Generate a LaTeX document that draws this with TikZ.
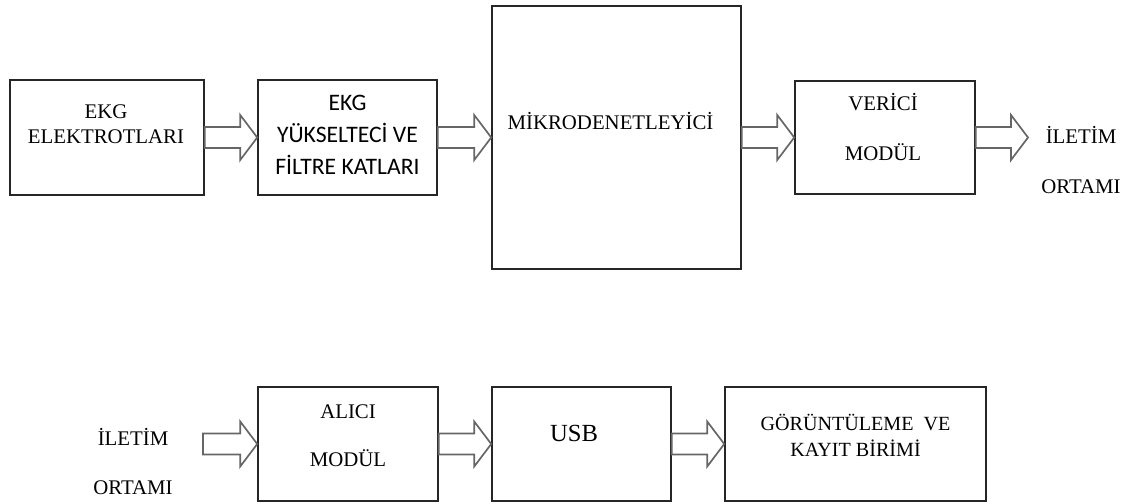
\documentclass[tikz,border=0pt]{standalone}
\usepackage{fontspec}
\setmainfont{Liberation Serif}
\newfontfamily\calibri{Carlito}
\usetikzlibrary{positioning,calc}

\newcommand{\birim}{0.025cm}
% hollow block arrow from #1 to #2
\newcommand{\blokok}[2]{%
  \draw[okcizgi] ($(#1)+(0,-10.5)$) -- ($(#2)+(-17,-10.5)$) -- ($(#2)+(-17,-22.5)$) -- (#2)
    -- ($(#2)+(-17,22.5)$) -- ($(#2)+(-17,10.5)$) -- ($(#1)+(0,10.5)$) -- cycle;}

\begin{document}
\begin{tikzpicture}[x=\birim, y=-\birim]

  \tikzstyle{every node}=[font=\fontsize{14.8}{17}\selectfont]

  \tikzset{blok/.style={draw=black!85, line width=1.1pt, inner sep=0pt},
    okcizgi/.style={draw=black!60, line width=1.2pt}}

  \useasboundingbox (0,0) rectangle (1129,504);

  % Upper row
  \node[blok, minimum width=194*\birim, minimum height=115*\birim] (elektrot) at (107,137.5) {};
  \node[blok, minimum width=179*\birim, minimum height=115*\birim] (yukseltec) at (347.5,137.5) {};
  \node[blok, minimum width=249*\birim, minimum height=263*\birim] (mikro) at (616.5,137.5) {};
  \node[blok, minimum width=180*\birim, minimum height=113*\birim] (verici) at (885,137.5) {};
  \coordinate (iletim ucu) at (1028,137.5);

  \node[align=center, font=\fontsize{14.8}{17.8}\selectfont] (elektrot yazi) at ($(elektrot)+(-1,-13)$) {EKG\\ELEKTROTLARI};
  \node[align=center, font=\calibri\fontsize{16.8}{22.75}\selectfont] (yukseltec yazi) at ($(yukseltec)+(0,-2.5)$) {EKG\\YÜKSELTECİ VE\\FİLTRE KATLARI};
  \node (mikro yazi) at ($(mikro)+(-6,-16.5)$) {MİKRODENETLEYİCİ};
  \node[align=center, font=\fontsize{14.8}{35.5}\selectfont] (verici yazi) at ($(verici)+(-2,-10.5)$) {VERİCİ\\MODÜL};
  \node[align=center, font=\fontsize{14.8}{35.5}\selectfont] (iletim ust) at (1081,160) {İLETİM\\ORTAMI};

  % Lower row
  \coordinate (iletim basi) at (203,444);
  \node[blok, minimum width=180*\birim, minimum height=114*\birim] (alici) at (348,444) {};
  \node[blok, minimum width=179*\birim, minimum height=114*\birim] (usb) at (581.5,444) {};
  \node[blok, minimum width=261*\birim, minimum height=114*\birim] (goruntu) at (855.5,444) {};

  \node[align=center, font=\fontsize{14.8}{35}\selectfont] (iletim alt) at (133,461.5) {İLETİM\\ORTAMI};
  \node[align=center, font=\fontsize{14.8}{34}\selectfont] (alici yazi) at ($(alici)+(0,-8)$) {ALICI\\MODÜL};
  \node[font=\fontsize{17.5}{20}\selectfont] (usb yazi) at ($(usb)+(-7.5,-11)$) {USB};
  \node[align=center, font=\fontsize{14.3}{18.5}\selectfont] (goruntu yazi) at ($(goruntu)+(0,-9)$) {GÖRÜNTÜLEME\ \ VE\\KAYIT BİRİMİ};

  % Arrows
  \blokok{elektrot.east}{yukseltec.west}
  \blokok{yukseltec.east}{mikro.west}
  \blokok{mikro.east}{verici.west}
  \blokok{verici.east}{iletim ucu}
  \blokok{iletim basi}{alici.west}
  \blokok{alici.east}{usb.west}
  \blokok{usb.east}{goruntu.west}

\end{tikzpicture}
\end{document}
